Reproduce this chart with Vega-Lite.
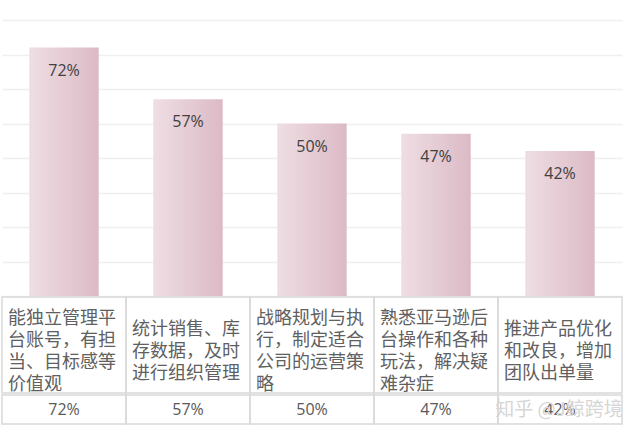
{
  "$schema": "https://vega.github.io/schema/vega-lite/v6.json",
  "padding": {"left": 1, "top": 20, "right": 18, "bottom": 19},
  "spacing": 0,
  "config": {"view": {"stroke": null}, "font": "Noto Sans CJK SC"},
  "title": {"text": "知乎 @J鲸跨境", "orient": "bottom", "anchor": "end", "offset": -24, "fontSize": 19, "fontWeight": "normal", "color": "#d6d6d6"},
  "data": {
    "values": [
      {"item": "能独立管理平台账号，有担当、目标感等价值观", "label": "能独立管理平\n台账号，有担\n当、目标感等\n价值观", "value": 0.72},
      {"item": "统计销售、库存数据，及时进行组织管理", "label": "统计销售、库\n存数据，及时\n进行组织管理", "value": 0.57},
      {"item": "战略规划与执行，制定适合公司的运营策略", "label": "战略规划与执\n行，制定适合\n公司的运营策\n略", "value": 0.5},
      {"item": "熟悉亚马逊后台操作和各种玩法，解决疑难杂症", "label": "熟悉亚马逊后\n台操作和各种\n玩法，解决疑\n难杂症", "value": 0.47},
      {"item": "推进产品优化和改良，增加团队出单量", "label": "推进产品优化\n和改良，增加\n团队出单量", "value": 0.42}
    ]
  },
  "vconcat": [
    {
      "width": 620,
      "height": 276,
      "encoding": {
        "x": {"field": "item", "type": "nominal", "sort": null, "axis": null,
              "scale": {"paddingInner": 0.44, "paddingOuter": 0.22}}
      },
      "layer": [
        {
          "mark": {
            "type": "bar",
            "color": {
              "gradient": "linear", "x1": 0, "y1": 0, "x2": 1, "y2": 0,
              "stops": [{"offset": 0, "color": "#eedee3"}, {"offset": 1, "color": "#dcbac5"}]
            }
          },
          "encoding": {
            "y": {
              "field": "value", "type": "quantitative",
              "scale": {"domain": [0, 0.8], "nice": false},
              "axis": {"values": [0, 0.1, 0.2, 0.3, 0.4, 0.5, 0.6, 0.7, 0.8], "tickCount": 20, "grid": true,
                       "gridColor": "#efefef", "gridWidth": 1.5, "labels": false, "ticks": false,
                       "domain": false, "title": null}
            }
          }
        },
        {
          "mark": {"type": "text", "dy": 23, "baseline": "middle", "fontSize": 16, "font": "Open Sans", "color": "#404040"},
          "encoding": {
            "y": {"field": "value", "type": "quantitative"},
            "text": {"field": "value", "type": "quantitative", "format": ".0%"}
          }
        }
      ]
    },
    {
      "width": 620,
      "height": 96,
      "encoding": {
        "x": {"field": "item", "type": "nominal", "sort": null, "axis": null,
              "scale": {"paddingInner": 0, "paddingOuter": 0}}
      },
      "layer": [
        {"mark": {"type": "rect", "fill": "transparent", "stroke": "#d9d9d9", "strokeWidth": 1.5}},
        {
          "mark": {"type": "text", "align": "left", "baseline": "middle", "dx": 6, "fontSize": 18,
                   "lineHeight": 21.7, "lineBreak": "\n", "color": "#606060",
                   "dy": {"expr": "7 - (length(split(datum.label, '\\n')) - 1) * 10.85"}},
          "encoding": {
            "x": {"field": "item", "type": "nominal", "sort": null, "bandPosition": 0},
            "text": {"field": "label"}
          }
        }
      ]
    },
    {
      "width": 620,
      "height": 29,
      "encoding": {
        "x": {"field": "item", "type": "nominal", "sort": null, "axis": null,
              "scale": {"paddingInner": 0, "paddingOuter": 0}}
      },
      "layer": [
        {"mark": {"type": "rect", "fill": "transparent", "stroke": "#d9d9d9", "strokeWidth": 1.5}},
        {
          "mark": {"type": "text", "baseline": "middle", "fontSize": 16, "font": "Open Sans", "color": "#595959"},
          "encoding": {
            "text": {"field": "value", "type": "quantitative", "format": ".0%"}
          }
        }
      ]
    }
  ]
}
